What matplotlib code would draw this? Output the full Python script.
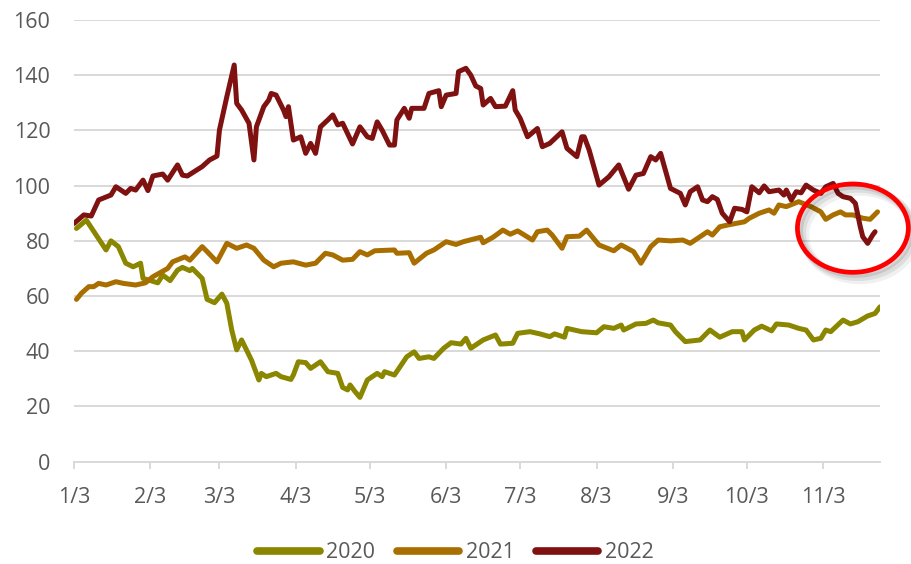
import matplotlib
matplotlib.use("Agg")
import matplotlib.pyplot as plt
import matplotlib.dates as mdates
import matplotlib.transforms as mtransforms
from matplotlib.patches import Ellipse
from matplotlib.lines import Line2D
import datetime as dt

# ---------------- data (day offset from Jan 3, value) ----------------
days_2020 = [1, 5, 9, 13, 15, 18, 21, 24, 27, 28, 34, 36, 39, 42, 44, 47, 48, 52, 54, 57,
             60, 62, 64, 66, 68, 72, 75, 76, 78, 82, 84, 88, 89, 91, 94, 96, 100, 103, 107, 109,
             111, 112, 114, 116, 119, 121, 123, 125, 126, 130, 135, 138, 140, 144, 146, 150, 153, 157, 159, 161,
             166, 171, 173, 178, 180, 185, 189, 193, 195, 199, 200, 206, 212, 215, 219, 222, 223, 228, 232, 235,
             237, 242, 244, 248, 254, 258, 262, 267, 271, 272, 276, 279, 283, 285, 290, 294, 297, 300, 303, 305,
             307, 312, 315, 318, 322, 325, 327]
vals_2020 = [84.5, 87.5, 82.1, 76.7, 80.0, 77.9, 71.9, 70.6, 71.9, 66.4, 64.8, 67.6, 65.6, 69.4, 70.4, 69.2, 70.0, 66.4, 58.8, 57.6,
             60.7, 57.4, 47.7, 40.5, 44.1, 36.8, 29.6, 32.0, 30.8, 32.0, 30.8, 29.8, 31.4, 36.2, 35.9, 33.8, 36.2, 32.6, 32.0, 26.9,
             26.0, 27.8, 25.4, 23.3, 29.6, 30.8, 32.0, 30.8, 32.6, 31.4, 38.0, 39.8, 37.4, 38.0, 37.4, 41.1, 43.1, 42.6, 44.7, 41.1,
             44.1, 45.9, 42.6, 42.9, 46.5, 47.1, 46.3, 45.3, 46.3, 45.1, 48.3, 47.1, 46.7, 48.9, 48.3, 49.5, 47.7, 49.9, 50.1, 51.3,
             50.3, 49.5, 47.1, 43.5, 44.1, 47.7, 45.1, 47.1, 47.1, 44.1, 47.7, 49.1, 47.4, 49.9, 49.5, 48.3, 47.7, 44.1, 44.7, 47.7,
             47.1, 51.3, 49.9, 50.7, 52.8, 53.7, 56.1]

days_2021 = [1, 3, 6, 8, 10, 13, 17, 20, 25, 29, 32, 38, 40, 45, 47, 52, 54, 58, 62, 66,
             70, 73, 77, 81, 84, 89, 94, 98, 102, 105, 109, 113, 116, 119, 122, 130, 131, 136, 138, 143,
             146, 151, 155, 158, 165, 166, 170, 174, 177, 180, 186, 188, 192, 194, 198, 200, 205, 208, 213, 219,
             222, 227, 230, 234, 237, 242, 247, 250, 257, 259, 262, 265, 272, 274, 278, 282, 284, 286, 289, 294,
             299, 303, 305, 308, 311, 313, 316, 320, 323, 326]
vals_2021 = [58.8, 61.0, 63.4, 63.4, 64.6, 64.0, 65.2, 64.6, 64.0, 64.8, 67.0, 70.0, 72.4, 74.2, 73.0, 77.9, 76.1, 72.4, 79.1, 77.3,
             78.5, 77.3, 73.0, 70.6, 71.9, 72.4, 71.2, 71.9, 75.5, 74.9, 73.0, 73.3, 76.1, 74.9, 76.4, 76.7, 75.5, 75.7, 71.9, 75.5,
             76.7, 79.7, 78.7, 79.7, 81.3, 79.3, 81.3, 83.9, 82.4, 83.6, 80.3, 83.3, 83.9, 82.1, 77.3, 81.5, 81.7, 83.9, 78.5, 76.4,
             78.5, 76.1, 71.9, 77.9, 80.3, 80.0, 80.3, 79.1, 83.3, 82.1, 85.1, 85.7, 86.9, 88.2, 90.0, 91.2, 90.0, 93.0, 92.4, 94.2,
             92.4, 90.5, 87.8, 89.4, 90.5, 89.4, 89.4, 88.2, 87.8, 90.5]

days_2022 = [0, 4, 7, 10, 15, 17, 21, 23, 25, 28, 30, 32, 36, 38, 42, 44, 46, 52, 55, 58,
             59, 62, 65, 66, 68, 71, 73, 74, 77, 79, 80, 82, 85, 86, 87, 89, 92, 94, 96, 98,
             100, 103, 105, 107, 109, 113, 116, 119, 121, 123, 125, 128, 130, 131, 134, 136, 137, 142, 144, 148,
             149, 151, 155, 156, 159, 161, 163, 165, 166, 169, 171, 175, 178, 179, 181, 184, 188, 190, 193, 198,
             200, 204, 206, 207, 209, 213, 217, 221, 225, 228, 231, 234, 236, 238, 242, 246, 248, 250, 253, 255,
             257, 259, 261, 263, 266, 268, 271, 273, 275, 278, 280, 282, 286, 288, 289, 291, 293, 295, 297, 300,
             303, 305, 308, 310, 312, 315, 317, 319, 320, 322, 324, 325]
vals_2022 = [86.3, 89.4, 89.0, 94.8, 96.6, 99.6, 97.2, 99.0, 98.4, 102.0, 98.2, 103.5, 104.2, 102.0, 107.5, 103.8, 103.5, 106.9, 109.3, 110.7,
             120.1, 132.2, 143.7, 129.8, 127.4, 122.6, 109.3, 121.3, 128.6, 131.0, 133.4, 132.8, 127.4, 125.0, 128.6, 116.5, 117.7, 111.7, 115.3, 111.7,
             121.3, 123.8, 125.6, 122.0, 122.6, 115.1, 121.3, 117.7, 117.1, 123.1, 120.1, 114.7, 114.7, 123.8, 128.0, 124.4, 128.0, 128.0, 133.4, 134.4,
             128.6, 132.8, 133.4, 141.3, 142.5, 140.0, 136.1, 135.2, 129.2, 131.6, 128.6, 128.8, 134.4, 127.4, 124.4, 117.7, 120.7, 114.1, 115.3, 119.5,
             113.5, 110.5, 117.7, 117.7, 112.9, 100.2, 103.2, 107.5, 98.7, 103.8, 104.4, 110.5, 109.3, 111.7, 99.0, 97.2, 93.0, 97.8, 99.6, 94.8,
             94.2, 96.0, 95.0, 90.0, 86.9, 91.8, 91.4, 90.5, 99.6, 97.4, 99.9, 97.8, 98.4, 96.6, 98.4, 94.8, 97.8, 97.4, 100.2, 98.4,
             97.2, 99.6, 100.8, 97.2, 96.0, 95.4, 93.6, 85.1, 81.5, 79.1, 82.1, 83.3]

series_names = ["2020", "2021", "2022"]
tick_labels = ["1/3", "2/3", "3/3", "4/3", "5/3", "6/3", "7/3", "8/3", "9/3", "10/3", "11/3"]
y_ticks = [0, 20, 40, 60, 80, 100, 120, 140, 160]

# ---------------- styling ----------------
colors = {"2020": "#8A8600", "2021": "#A86F00", "2022": "#7F1111"}
text_color = "#595959"
grid_color = "#D9D9D9"
font = ["Open Sans", "DejaVu Sans"]
plt.rcParams["font.family"] = font

base = dt.date(2022, 1, 3)
def to_num(offsets):
    return [mdates.date2num(base + dt.timedelta(days=d)) for d in offsets]

fig = plt.figure(figsize=(9.11, 5.64), dpi=100)
ax = fig.add_axes([74 / 911, 1 - 461.7 / 564, (880 - 74) / 911, (461.7 - 20) / 564])

data = {"2020": (days_2020, vals_2020), "2021": (days_2021, vals_2021), "2022": (days_2022, vals_2022)}
for name in series_names:
    d, v = data[name]
    ax.plot(to_num(d), v, color=colors[name], lw=3.6, solid_joinstyle="round",
            solid_capstyle="round", zorder=3)

x0 = mdates.date2num(base)
ax.set_xlim(x0, x0 + 327.0)
ax.set_ylim(0, 160)
ax.set_yticks(y_ticks)
ax.set_yticklabels([str(t) for t in y_ticks])

tick_pos = [mdates.date2num(dt.date(2022, m, 3)) for m in range(1, 12)]
ax.set_xticks(tick_pos)
ax.set_xticklabels(tick_labels)

ax.grid(axis="y", color=grid_color, lw=1.4, zorder=0)
ax.set_axisbelow(True)
for s in ["top", "right", "left"]:
    ax.spines[s].set_visible(False)
ax.spines["bottom"].set_color(grid_color)
ax.spines["bottom"].set_linewidth(1.4)
ax.tick_params(axis="y", length=0, pad=17, labelsize=15.5, labelcolor=text_color)
ax.tick_params(axis="x", length=5, width=1.4, color=grid_color, direction="out",
               pad=13, labelsize=15.5, labelcolor=text_color)

# red ellipse highlight with soft shadow
ex, ey = mdates.date2num(base + dt.timedelta(days=316.5)), 84.6
ew, eh = 45.0, 32.0
for i, a in enumerate([0.10, 0.08, 0.06]):
    off = mtransforms.offset_copy(ax.transData, fig=fig, x=2 + i * 1.5, y=-(2 + i * 1.5), units="points")
    ax.add_patch(Ellipse((ex, ey), ew, eh, fill=False, ec="#000000", lw=4 + i * 1.5,
                         alpha=a, transform=off, clip_on=False, zorder=4))
ax.add_patch(Ellipse((ex, ey), ew, eh, fill=False, ec="#FF0000", lw=3.4,
                     clip_on=False, zorder=5))

handles = [Line2D([0], [0], color=colors[n], lw=5.5, solid_capstyle="round") for n in series_names]
fig.legend(handles, series_names, loc="center", bbox_to_anchor=(0.5, 1 - 553 / 564),
           ncol=3, frameon=False, fontsize=15.5, labelcolor=text_color,
           handlelength=2.9, handletextpad=0.3, columnspacing=1.0, borderpad=0)

fig.savefig("out.png", dpi=100)
